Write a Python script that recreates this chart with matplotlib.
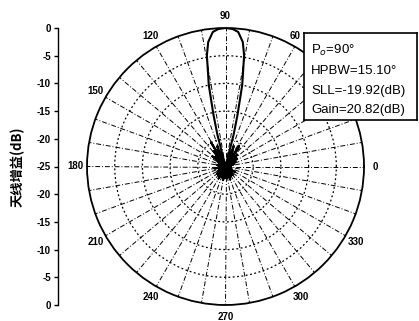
import numpy as np
import matplotlib.pyplot as plt

# pattern (angle in deg, gain in dB, floor at -25)
angles = [0, 5, 10, 15, 20, 25, 30, 35, 40, 45, 50, 54, 57, 61, 65, 68, 71, 74,
          75.7, 76.9, 78.4, 80.5, 82.1, 84.6, 87, 90, 93, 95.4, 97.9, 99.5,
          101.6, 103.1, 104.3,
          106, 109, 112, 115, 119, 121, 124, 128, 132, 135, 138, 142, 146, 150, 155,
          160, 165, 170, 175, 180, 185, 190, 195, 200, 205, 210, 215, 220, 225, 230,
          235, 240, 245, 250, 255, 260, 265, 270, 275, 280, 285, 290, 295, 300, 305,
          310, 315, 320, 325, 330, 335, 340, 345, 350, 355, 360]
gains = [-25, -24, -25, -23.5, -25, -23, -25, -22.5, -25, -22, -25, -21, -20.5, -25,
         -22, -21, -25, -25,
         -19.1, -15.45, -10, -4.64, -2.31, -0.61, -0.15, 0, -0.15, -0.61, -2.31, -4.64,
         -10, -15.45, -19.1,
         -25, -25, -21, -22, -25, -19.92, -25, -21.5, -25, -22.5, -25, -22, -25, -23.5, -25,
         -24, -25, -23.5, -25, -24, -25, -23, -25, -24, -25, -23.5, -25, -23, -25, -23,
         -25, -22.5, -25, -23, -25, -22.5, -25, -23, -25, -23, -25, -22.5, -25, -23, -25,
         -23, -25, -23.5, -25, -23, -25, -24, -25, -24, -25, -25]

# the 30 label is hidden behind the info box in the original
angle_labels = [0, 60, 90, 120, 150, 180, 210, 240, 270, 300, 330]
gain_ticks = [0, -5, -10, -15, -20, -25, -20, -15, -10, -5, 0]
info = ["P$_o$=90°", "HPBW=15.10°", "SLL=-19.92(dB)", "Gain=20.82(dB)"]

W, H = 419, 321
fig = plt.figure(figsize=(W / 100, H / 100), dpi=100)

cx, cy, R = 225.5, 166.5, 138.5
ax = fig.add_axes([(cx - R) / W, (H - cy - R) / H, 2 * R / W, 2 * R / H], projection="polar")
ax.set_ylim(-25, 0)
ax.set_xticks(np.deg2rad(np.arange(0, 360, 10)))
ax.set_xticklabels([])
ax.set_yticks([-20, -15, -10, -5])
ax.set_yticklabels([])
ax.xaxis.grid(True, color="k", linestyle=(0, (5, 2, 1, 2)), linewidth=0.7)
ax.yaxis.grid(True, color="k", linestyle=(0, (1.5, 2)), linewidth=0.9)
ax.spines["polar"].set_linewidth(1.3)

ax.plot(np.deg2rad(angles), gains, color="k", linewidth=1.5)

for a in angle_labels:
    ax.text(np.deg2rad(a), 2.1, str(a), ha="right" if a == 60 else "center", va="center",
            fontsize=7, fontweight="bold", family="Liberation Sans", clip_on=False)

# left gain axis
ax2 = fig.add_axes([58 / W, (H - 305) / H, 0.001, 277 / H])
ax2.set_ylim(0, len(gain_ticks) - 1)
ax2.set_yticks(range(len(gain_ticks)))
ax2.set_yticklabels([str(v) for v in gain_ticks[::-1]], fontsize=7, fontweight="bold",
                    family="Liberation Sans")
ax2.set_xticks([])
for s in ["top", "right", "bottom"]:
    ax2.spines[s].set_visible(False)
ax2.spines["left"].set_linewidth(1.0)
ax2.tick_params(axis="y", length=3, width=1.0, pad=2)
ax2.patch.set_visible(False)

fig.text(18 / W, 1 - 167 / H, "天线增益(dB)", rotation=90, ha="center", va="center",
         fontsize=9.5, fontweight="bold", family=["Noto Sans CJK SC", "DejaVu Sans"])

# info box
bx = fig.add_axes([304 / W, 1 - 120 / H, 113 / W, 87 / H])
bx.set_xticks([])
bx.set_yticks([])
for s in bx.spines.values():
    s.set_linewidth(1.2)
ys = [50, 71, 91, 110]
for t, y in zip(info, ys):
    bx.text((311 - 304) / 113, (120 - y) / 87, t, transform=bx.transAxes, ha="left",
            va="center", fontsize=9.5, family="Liberation Sans")

plt.savefig("out.png", dpi=100)
